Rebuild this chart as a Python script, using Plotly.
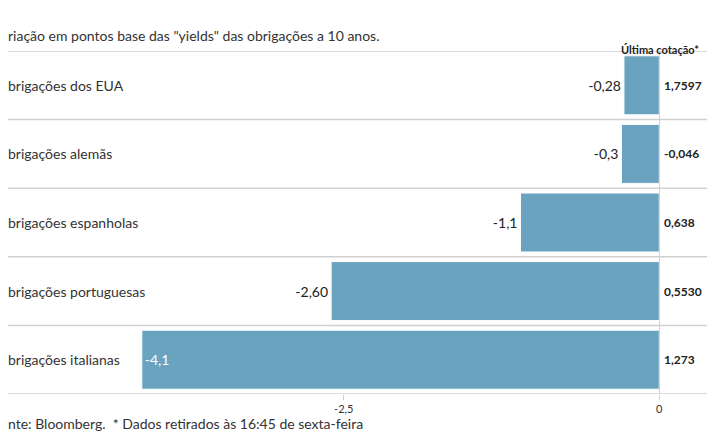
import plotly.graph_objects as go

categories = ["brigações dos EUA", "brigações alemãs", "brigações espanholas",
              "brigações portuguesas", "brigações italianas"]
changes = [-0.28, -0.3, -1.1, -2.60, -4.1]
change_labels = ["-0,28", "-0,3", "-1,1", "-2,60", "-4,1"]
last_quote = ["1,7597", "-0,046", "0,638", "0,5530", "1,273"]
tick_vals = [-2.5, 0]
tick_text = ["-2,5", "0"]

FONT = "Lato"
BAR = "#6aa3bf"

fig = go.Figure()
fig.add_trace(go.Bar(
    y=categories, x=changes, orientation="h",
    marker=dict(color=BAR, line=dict(color="#ffffff", width=1)),
    width=0.86,
    text=change_labels,
    textposition=["outside", "outside", "outside", "outside", "inside"],
    insidetextanchor="end",
    insidetextfont=dict(family=FONT, size=14, color="#ffffff"),
    outsidetextfont=dict(family=FONT, size=14, color="#222"),
    cliponaxis=False,
    hoverinfo="skip",
))

# row labels and right column
for c, q in zip(categories, last_quote):
    fig.add_annotation(x=0, xref="paper", y=c, yref="y", text=c, showarrow=False,
                       xanchor="left", xshift=-2, font=dict(family=FONT, size=14, color="#333"))
    fig.add_annotation(x=0.916, xref="paper", y=c, yref="y", text="<b>" + q + "</b>", showarrow=False,
                       xanchor="left", xshift=3, font=dict(family=FONT, size=12, color="#222"))

# row separators
for k in range(len(categories) + 1):
    fig.add_shape(type="line", xref="paper", x0=0, x1=1.0, yref="y",
                  y0=k - 0.5, y1=k - 0.5, line=dict(color="#d0d0d0", width=1.5))

fig.add_annotation(x=0, xref="paper", y=1.0, yref="paper", yshift=26,
                   text='riação em pontos base das "yields" das obrigações a 10 anos.',
                   showarrow=False, xanchor="left", xshift=-2, font=dict(family=FONT, size=14, color="#333"))
fig.add_annotation(x=0.916, xref="paper", y=1.0, yref="paper", yshift=10, text="<b>Última cotação*</b>",
                   showarrow=False, xanchor="left", xshift=-40, font=dict(family=FONT, size=11, color="#222"))
fig.add_annotation(x=0, xref="paper", y=0, yref="paper", yshift=-40,
                   text="nte: Bloomberg.  * Dados retirados às 16:45 de sexta-feira",
                   showarrow=False, xanchor="left", xshift=-2, font=dict(family=FONT, size=14, color="#333"))

fig.update_layout(
    width=715, height=445,
    margin=dict(l=0, r=0, t=43, b=59),
    paper_bgcolor="white", plot_bgcolor="white",
    showlegend=False,
    xaxis=dict(range=[-5.16, 0], tickvals=tick_vals, ticktext=tick_text, domain=[0, 0.916],
               showgrid=False, zeroline=True, zerolinecolor="#d0d0d0", zerolinewidth=1,
               ticks="outside", ticklen=5, tickcolor="#d0d0d0",
               tickfont=dict(family=FONT, size=11, color="#333")),
    yaxis=dict(showticklabels=False, showgrid=False, range=[4.5, -0.5]),
)

fig.write_html("out.html")
